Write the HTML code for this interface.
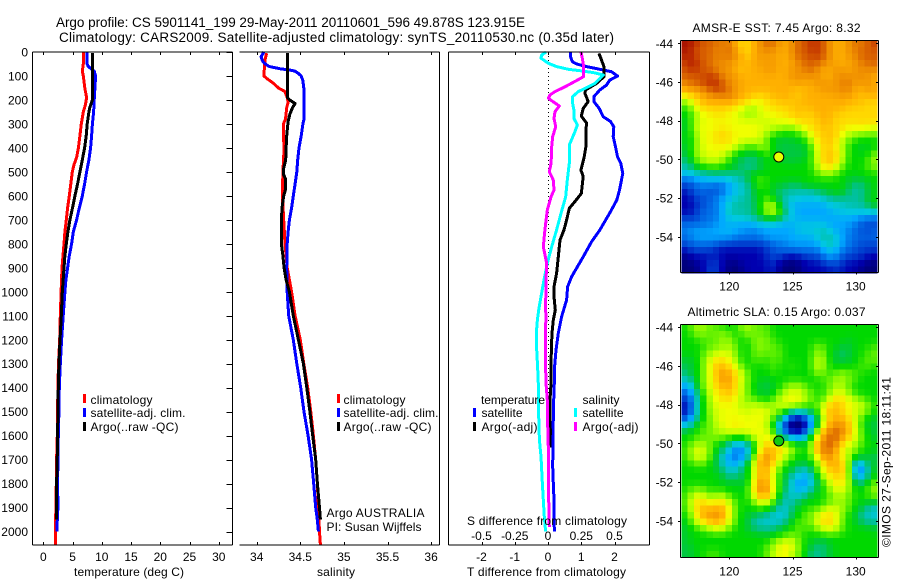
<!DOCTYPE html>
<html lang="en">
<head>
<meta charset="utf-8">
<title>Argo profile</title>
<style>
html,body{margin:0;padding:0;background:#fff;}
svg{display:block;}
text{font-family:"Liberation Sans",sans-serif;font-size:12px;fill:#000;}
.title{font-size:13.5px;}
</style>
</head>
<body>
<svg id="chart" width="900" height="580" viewBox="0 0 900 580" xmlns="http://www.w3.org/2000/svg">
  <rect width="900" height="580" fill="#fff"/>
  <text class="title" x="56" y="27" textLength="469">Argo profile: CS 5901141_199 29-May-2011 20110601_596 49.878S 123.915E</text>
  <text class="title" x="59" y="42" textLength="555">Climatology: CARS2009. Satellite-adjusted climatology: synTS_20110530.nc (0.35d later)</text>

  <g id="panel-t"></g>
  <g id="panel-s"></g>
  <g id="panel-d"></g>
  <g id="map-sst"></g>
  <g id="map-sla"></g>

  <text x="74" y="576" textLength="110">temperature (deg C)</text>
  <text x="317" y="576" textLength="38">salinity</text>
  <text x="467" y="576" textLength="159">T difference from climatology</text>
  <text x="467" y="525" textLength="160">S difference from climatology</text>

  <g>
    <rect x="83" y="394" width="3" height="9" fill="#f00"/>
    <rect x="83" y="408" width="3" height="9" fill="#00f"/>
    <rect x="83" y="422" width="3" height="9" fill="#000"/>
    <text x="90.5" y="404" textLength="62">climatology</text>
    <text x="90.5" y="417" textLength="95">satellite-adj. clim.</text>
    <text x="90.5" y="431" textLength="88">Argo(..raw -QC)</text>
  </g>
  <g>
    <rect x="337" y="394" width="3" height="9" fill="#f00"/>
    <rect x="337" y="408" width="3" height="9" fill="#00f"/>
    <rect x="337" y="422" width="3" height="9" fill="#000"/>
    <text x="343.5" y="404" textLength="62">climatology</text>
    <text x="343.5" y="417" textLength="95">satellite-adj. clim.</text>
    <text x="343.5" y="431" textLength="88">Argo(..raw -QC)</text>
  </g>
  <g>
    <text x="326.5" y="517" textLength="98">Argo AUSTRALIA</text>
    <text x="326.5" y="531" textLength="95">PI: Susan Wijffels</text>
  </g>
  <g>
    <text x="481" y="404" textLength="64">temperature</text>
    <text x="481.5" y="417" textLength="41">satellite</text>
    <text x="481.5" y="431" textLength="56">Argo(-adj)</text>
    <rect x="473" y="408" width="3" height="9" fill="#00f"/>
    <rect x="473" y="422" width="3" height="9" fill="#000"/>
    <text x="582.5" y="404" textLength="37">salinity</text>
    <text x="582.5" y="417" textLength="41">satellite</text>
    <text x="582.5" y="431" textLength="56">Argo(-adj)</text>
    <rect x="574" y="408" width="3" height="9" fill="#0ff"/>
    <rect x="574" y="422" width="3" height="9" fill="#f0f"/>
  </g>

  <text x="692.5" y="32" textLength="168">AMSR-E SST: 7.45 Argo: 8.32</text>
  <text x="687.5" y="316" textLength="178">Altimetric SLA: 0.15 Argo: 0.037</text>
  <text transform="translate(890.5,547) rotate(-90)" textLength="170">©IMOS 27-Sep-2011 18:11:41</text>
</svg>

<script>
// ---- profile data ----
const depthTicks = [0,100,200,300,400,500,600,700,800,900,1000,1100,1200,1300,1400,1500,1600,1700,1800,1900,2000];
const tempTicks = [0,5,10,15,20,25,30];
const salTicks = [34,34.5,35,35.5,36];
const tDiffTicks = [-2,-1,0,1,2];
const sDiffTicks = [-0.5,-0.25,0,0.25,0.5];
const latTicks = [-44,-46,-48,-50,-52,-54];
const lonTicks = [120,125,130];

const climTempDepth = [0,50,80,100,150,190,220,250,300,350,400,440,470,500,550,600,650,700,750,800,850,900,1000,1100,1200,1300,1400,1500,1600,1700,1800,1900,1950,2055];
const climTemp = [6.83,6.83,6.66,6.83,7.1,7.4,7.2,6.83,6.5,6.26,6,5.7,5.24,4.95,4.7,4.44,4.15,3.93,3.7,3.53,3.36,3.19,3.05,2.9,2.8,2.6,2.5,2.45,2.4,2.28,2.22,2.16,2.1,2.1];
const satTempDepth = [0,50,60,80,100,150,200,250,300,350,400,450,500,550,600,650,700,750,800,850,900,950,1000,1100,1200,1300,1400,1500,1600,1700,1800,1900,1950,2000];
const satTemp = [7.5,7.5,7.68,8.7,8.94,8.82,8.7,8.6,8.4,8.25,8.08,7.8,7.4,7.06,6.66,6.15,5.7,5.12,4.84,4.44,4.15,3.87,3.7,3.4,3.13,2.9,2.73,2.67,2.56,2.5,2.45,2.5,2.39,2.33];
const argoTempDepth = [5,100,200,230,250,300,350,400,450,500,550,600,650,700,750,800,850,900,1000,1100,1200,1300,1400,1500,1600,1700,1800,1900,1950];
const argoTemp = [8.37,8.37,8.37,7.97,7.8,7.5,7.34,7.06,6.66,6.26,5.86,5.4,5,4.55,4.2,3.93,3.7,3.53,3.24,3.07,2.85,2.67,2.56,2.5,2.45,2.38,2.28,2.28,2.28];

const climSalDepth = [5,30,60,100,110,130,150,165,190,210,230,280,300,350,400,500,600,700,800,900,1000,1100,1200,1300,1400,1500,1600,1700,1800,1900,2000,2055];
const climSal = [34.115,34.096,34.088,34.084,34.115,34.19,34.25,34.325,34.35,34.36,34.345,34.33,34.306,34.306,34.314,34.3,34.295,34.31,34.325,34.35,34.4,34.44,34.5,34.54,34.585,34.62,34.65,34.677,34.696,34.707,34.72,34.73];
const satSalDepth = [0,10,20,40,50,60,70,75,80,90,100,120,150,200,280,300,350,400,450,500,550,600,650,700,750,800,900,1000,1100,1200,1300,1400,1500,1600,1700,1800,1900,1950,2000];
const satSal = [34.084,34.065,34.05,34.07,34.1,34.14,34.27,34.38,34.44,34.48,34.51,34.53,34.54,34.543,34.543,34.53,34.51,34.485,34.47,34.46,34.44,34.42,34.4,34.375,34.36,34.35,34.344,34.35,34.367,34.42,34.46,34.505,34.543,34.59,34.63,34.654,34.677,34.695,34.707];
const argoSalDepth = [5,190,200,215,230,260,290,350,400,450,490,510,530,570,600,650,700,800,850,900,950,1000,1100,1200,1300,1400,1500,1600,1700,1800,1900,1950];
const argoSal = [34.352,34.352,34.38,34.44,34.413,34.38,34.36,34.344,34.337,34.333,34.306,34.306,34.333,34.333,34.31,34.29,34.283,34.283,34.3,34.314,34.337,34.375,34.42,34.478,34.535,34.574,34.61,34.642,34.677,34.696,34.72,34.73];

const satTDiffDepth = [0,20,40,50,61,82,100,117,138,158,186,207,235,270,290,312,353,395,437,465,506,576,617,666,742,791,854,937,979,1034,1104,1173,1243,1312,1382,1451,1590,1729,1799,1868,2000];
const satTDiff = [0.68,0.68,0.73,0.86,1.16,1.91,2.09,1.86,1.76,1.56,1.38,1.38,1.54,1.66,1.88,1.98,1.96,2.03,2.09,2.19,2.25,2.15,2.07,1.88,1.56,1.31,1.06,0.71,0.59,0.56,0.41,0.31,0.24,0.2,0.19,0.17,0.15,0.14,0.16,0.18,0.19];
const argoTDiffDepth = [6,33,61,103,131,158,172,207,235,267,297,325,395,437,492,520,590,624,652,701,742,784,854,923,979,1020,1076,1118,1173,1243,1382,1451,1590,1650];
const argoTDiff = [1.53,1.61,1.68,1.68,1.46,1.13,1.11,1.21,1.06,1,1.16,1.14,1.14,1.09,0.99,1.06,1,0.81,0.64,0.56,0.48,0.36,0.31,0.26,0.18,0.18,0.22,0.16,0.12,0.1,0.09,0.06,0.07,0.06];
const satSDiffDepth = [0,13,26,47,61,72,78,86,96,110,131,152,165,186,214,242,277,304,339,388,464,534,603,673,742,812,881,951,1020,1076,1117,1173,1243,1312,1382,1521,1618,1687,1771,1868,1937,2000];
const satSDiff = [-0.015,-0.048,-0.053,0.003,0.065,0.153,0.241,0.341,0.416,0.391,0.353,0.278,0.228,0.185,0.185,0.195,0.195,0.221,0.198,0.16,0.16,0.145,0.133,0.098,0.065,0.028,-0.005,-0.03,-0.053,-0.07,-0.08,-0.088,-0.085,-0.078,-0.073,-0.07,-0.065,-0.053,-0.045,-0.035,-0.028,-0.018];
const argoSDiffDepth = [0,26,54,103,117,145,165,179,193,203,225,249,277,311,353,395,464,499,534,576,603,659,742,812,881,951,1076,1104,1173,1256,1382,1451,1521,1590,1729,1868,1980];
const argoSDiff = [0.248,0.258,0.266,0.266,0.221,0.128,0.053,0.015,0.003,0.028,0.085,0.053,0.045,0.058,0.035,0.028,0.023,0.01,0.04,0.045,0.023,-0.005,-0.023,-0.035,-0.01,-0.015,-0.018,-0.015,-0.02,-0.02,-0.015,-0.005,-0.005,0,0.005,0.005,0.01];

// ---- gridded map values: one level character per half-degree cell ----
const sstRows = [
"hhgff fefdc cdeff edeff ggfed defef g",
"hgfff eefec cdeee ddeff ggfed deeff f",
"ghfff efefd cdede ddeff fgfed deeff f",
"fhgff eeedd ddede dddef ffeed ddeef f",
"fggff eeedc dddee ddeee fedde edeee e",
"ffffg geeed ddddd ddeee eedde eeeee d",
"effgg gfeed ddddd ddded deede efdee d",
"deeef ggeed ddddd dddcd ddeee efdde d",
"bccde eefed dcccd dddcd ddddd eddcd d",
"9bcdd ddddc cbbcc cdcdd ddddd ddddc c",
"89bcc cccbb a9bbc cccdc ddddd dcccc c",
"88abb ccbba 9abbb bccdc cdddc ccccc c",
"79abb bbbbb bbaab bbbcc ccddc ccccc c",
"78bbb bcbbb bbbba aa9bb ccdcc cbbcb b",
"88abb cccbb bbba9 88889 bccdc baa99 9",
"87abb cccbb bba87 77788 accdc a9888 8",
"78abb bbbb9 88ab8 77777 8bccb a8877 8",
"78aab bba88 87888 77777 8bcdc b8888 a",
"67aab aa876 66788 87778 8bcdc a8888 a",
"66889 99887 66788 88888 8accb 98889 a",
"55666 66666 78788 88888 89aa9 88888 8",
"33445 55566 78a88 88888 88888 87778 8",
"22333 22445 67988 77668 88888 87667 8",
"12332 33455 67887 66665 56778 86667 8",
"11223 34556 67898 76555 55566 66667 8",
"11223 34566 668ab 75444 44455 56667 8",
"11233 34666 678ab a7544 44445 55555 5",
"22233 34555 66788 75544 44444 44433 3",
"33333 44444 34444 44455 55544 44332 2",
"34444 44544 43444 44455 55654 43322 3",
"33444 44433 33344 44444 45665 43333 3",
"23333 32222 22223 33444 44565 43322 2",
"12222 11111 11122 33333 33454 33222 2",
"01111 21111 11122 21112 22344 22221 1",
"00112 21001 11112 10001 11222 21110 0",
"00012 21000 11112 00001 11112 11100 0"];
const slaRows = [
"89aa9 9888a a9998 88888 88888 88888 8",
"88a99 9a988 a9998 88888 88888 88888 8",
"88899 9aa98 89a99 88888 88888 87888 8",
"88889 99a98 89a99 98888 8a988 77888 9",
"8889a bbba8 89999 98888 8a987 67889 9",
"7789b bcba8 89989 98888 8ba87 77889 9",
"7789b ddcb9 88889 88988 8ba88 88899 8",
"6789b cedcb 98889 88888 8a989 a9988 8",
"6689b ceecb 98878 88888 8899a a9988 8",
"4489b cddca 98777 89aa9 8889a a9888 8",
"3378b bcdcb 98778 9abba 998aa b9888 8",
"2268a bccba 99888 abbba 988bc cba98 8",
"1268a bbbba abaaa bbbba 99bcd cbbba 8",
"1268a abbbb abbba 98655 78cdd cbaa9 8",
"23689 bbbbb bbbb9 75002 46bcd dcb98 7",
"46899 abbcb bbba8 41000 36bde ecb87 7",
"78899 aabbb bbbb9 52001 5bdff fdb98 7",
"88999 a9988 9bbbb 86445 8cdff dcb98 7",
"89aa9 87644 57bcc bba88 9dfff bba98 8",
"8abb9 87533 58cdd cba88 9eefd ba988 8",
"8abb9 75333 58eed ca988 8beec ba987 6",
"88998 76445 7cdec a8877 89cde cb338 7",
"88888 77557 7bddb 98765 69bcd cb336 8",
"88888 87667 7bddb 87654 58bcc cb436 8",
"88888 88787 7cedb 87534 468ac bb678 a",
"89998 88888 8cfec 87544 688ab ba888 a",
"8abb9 ab888 8bddb 76566 7889a a9889 a",
"8bccb bcb98 89bb9 75668 88899 a9887 7",
"8acdd deb98 88987 55788 98abb a9876 5",
"89cde eeb98 77665 55689 9bccb 98765 5",
"79bcd ddb98 76555 56899 9bccb 98866 6",
"7889a bb988 76666 78899 8abcb 98888 7",
"78888 88888 88878 88998 88888 88888 8",
"78888 88888 88889 abb98 87788 88888 8",
"77888 88888 8889a bcba8 76678 88888 8",
"77889 98888 8889a bba98 66778 88888 8"];
const levelColours = ["#00007a","#0000b0","#0040d0","#0070e8","#00a8ff","#00c8e0","#00c0a0","#00c840","#00d800","#60f000","#b0ff00","#f0ff00","#ffd800","#ffb000","#f09000","#d86000","#c03000","#a81000"];
const floatLat = -49.878;
const floatLon = 123.915;

// ---- helpers ----
const NS = "http://www.w3.org/2000/svg";
function make(parent, tag, attrs, text) {
  const el = document.createElementNS(NS, tag);
  for (const k in attrs) el.setAttribute(k, attrs[k]);
  if (text !== undefined) el.textContent = text;
  parent.appendChild(el);
  return el;
}
function rule(parent, x1, y1, x2, y2) {
  const el = make(parent, "line", {x1:x1, y1:y1, x2:x2, y2:y2, stroke:"#000", "stroke-width":1, "shape-rendering":"crispEdges"});
  
  
  return el;
}
function tickLabel(parent, x, y, str, anchor) {
  const el = make(parent, "text", {x:x, y:y, "text-anchor":anchor}, str);
  
  
  return el;
}
const yDepth = d => 52 + d * 0.2398;
const PT = {left:32.5, right:232.5, top:52, bottom:545};
const PS = {left:239.5, right:439.5, top:52, bottom:545};
const PD = {left:448.5, right:649.5, top:52, bottom:545};
const xTemp = v => 43.3 + v * 5.85;
const xSal = v => 256.7 + (v - 34) * 87.2;
const xT = v => 548 + v * 33.25;
const xS = v => 548 + v * 133;

function curve(parent, xf, depths, vals, colour, name) {
  const pts = depths.map((d, i) => xf(vals[i]).toFixed(1) + "," + yDepth(d).toFixed(1)).join(" ");
  const el = make(parent, "polyline", {points:pts, fill:"none", stroke:colour, "stroke-width":3, "stroke-linejoin":"round", "shape-rendering":"crispEdges"});
  
  
}

// ---- panel 1: temperature ----
const gT = document.getElementById("panel-t");
curve(gT, xTemp, climTempDepth, climTemp, "#f00", "climatology-temperature-line");
curve(gT, xTemp, satTempDepth, satTemp, "#00f", "satellite-temperature-line");
curve(gT, xTemp, argoTempDepth, argoTemp, "#000", "argo-temperature-line");
rule(gT, PT.left, PT.top, PT.right, PT.top);
rule(gT, PT.left, PT.bottom, PT.right, PT.bottom);
rule(gT, PT.left, PT.top, PT.left, PT.bottom);
rule(gT, PT.right, PT.top, PT.right, PT.bottom);
depthTicks.forEach(d => {
  rule(gT, PT.right - 6, Math.round(yDepth(d)) + .5, PT.right, Math.round(yDepth(d)) + .5);
  tickLabel(gT, 28, yDepth(d) + 4.5, String(d), "end");
});
tempTicks.forEach(v => {
  const x = Math.round(xTemp(v)) + .5;
  rule(gT, x, PT.top, x, PT.top + 3);
  rule(gT, x, PT.bottom - 3, x, PT.bottom);
  tickLabel(gT, xTemp(v), 561, String(v), "middle");
});

// ---- panel 2: salinity ----
const gS = document.getElementById("panel-s");
curve(gS, xSal, climSalDepth, climSal, "#f00", "climatology-salinity-line");
curve(gS, xSal, satSalDepth, satSal, "#00f", "satellite-salinity-line");
curve(gS, xSal, argoSalDepth, argoSal, "#000", "argo-salinity-line");
rule(gS, PS.left, PS.top, PS.right, PS.top);
rule(gS, PS.left, PS.bottom, PS.right, PS.bottom);
rule(gS, PS.right, PS.top, PS.right, PS.bottom);
salTicks.forEach(v => {
  const x = Math.round(xSal(v)) + .5;
  rule(gS, x, PS.top, x, PS.top + 3);
  rule(gS, x, PS.bottom - 3, x, PS.bottom);
  tickLabel(gS, xSal(v), 561, String(v), "middle");
});

// ---- panel 3: differences ----
const gD = document.getElementById("panel-d");
const zero = make(gD, "line", {x1:548.5, y1:PD.top, x2:548.5, y2:PD.bottom - 60, stroke:"#000", "stroke-width":1, "stroke-dasharray":"1 3", "shape-rendering":"crispEdges"});


curve(gD, xT, satTDiffDepth, satTDiff, "#00f", "satellite-temperature-difference-line");
curve(gD, xT, argoTDiffDepth, argoTDiff, "#000", "argo-temperature-difference-line");
curve(gD, xS, satSDiffDepth, satSDiff, "#0ff", "satellite-salinity-difference-line");
curve(gD, xS, argoSDiffDepth, argoSDiff, "#f0f", "argo-salinity-difference-line");
rule(gD, PD.left, PD.top, PD.right, PD.top);
rule(gD, PD.left, PD.bottom, PD.right, PD.bottom);
rule(gD, PD.left, PD.top, PD.left, PD.bottom);
rule(gD, PD.right, PD.top, PD.right, PD.bottom);
tDiffTicks.forEach(v => {
  const x = Math.round(xT(v)) + .5;
  rule(gD, x, PD.top, x, PD.top + 3);
  rule(gD, x, PD.bottom - 3, x, PD.bottom);
  tickLabel(gD, xT(v), 561, String(v), "middle");
});
sDiffTicks.forEach(v => {
  tickLabel(gD, xS(v) , 540, String(v), "middle");
});

// ---- maps ----
function parseLevels(rows) {
  return rows.map(row => row.replace(/ /g, "").split("").map(ch => parseInt(ch, 36)));
}
// light display smoothing across neighbouring cells, like the shaded source map
function shade(grid, r, c) {
  let sum = 0, weight = 0;
  for (let dr = -1; dr <= 1; dr++) {
    for (let dc = -1; dc <= 1; dc++) {
      const row = grid[r + dr];
      if (!row || row[c + dc] === undefined) continue;
      const w = (dr === 0 ? 2 : 1) * (dc === 0 ? 2 : 1);
      sum += row[c + dc] * w;
      weight += w;
    }
  }
  return sum / weight;
}
function hexToRgb(h) {
  return [parseInt(h.slice(1, 3), 16), parseInt(h.slice(3, 5), 16), parseInt(h.slice(5, 7), 16)];
}
function levelColour(v) {
  const lo = Math.max(0, Math.min(levelColours.length - 1, Math.floor(v)));
  const hi = Math.min(levelColours.length - 1, lo + 1);
  const t = v - lo;
  const a = hexToRgb(levelColours[lo]);
  const b = hexToRgb(levelColours[hi]);
  const mix = a.map((p, i) => Math.round(p + (b[i] - p) * t));
  return "rgb(" + mix.join(",") + ")";
}
function drawMap(groupId, rows, box, latToY, marker, markerName) {
  const g = document.getElementById(groupId);
  const lonToX = lon => 729.3 + (lon - 120) * 12.64;
  const grid = parseLevels(rows);
  grid.forEach((cells, r) => {
    const top = box.lat0 - r / 3;
    for (let c = 0; c < cells.length; c++) {
      const lon = 116.2 + c * 0.5;
      const x0 = lonToX(lon);
      const x1 = lonToX(lon + 0.5);
      const y0 = latToY(top);
      const y1 = latToY(top - 1 / 3);
      const cell = make(g, "rect", {x:x0.toFixed(2), y:y0.toFixed(2), width:(x1 - x0 + .4).toFixed(2), height:(y1 - y0 + .4).toFixed(2), fill:levelColour(shade(grid, r, c)), "shape-rendering":"crispEdges"});
      
      
    }
  });
  rule(g, 680.5, box.top, 878.5, box.top);
  rule(g, 680.5, box.bottom, 878.5, box.bottom);
  rule(g, 680.5, box.top, 680.5, box.bottom);
  rule(g, 878.5, box.top, 878.5, box.bottom);
  latTicks.forEach(lat => {
    const y = Math.round(latToY(lat)) + .5;
    rule(g, 678, y, 681, y);
    rule(g, 876, y, 878.5, y);
    tickLabel(g, 673, latToY(lat) + 4.5, String(lat), "end");
  });
  lonTicks.forEach(lon => {
    const x = Math.round(lonToX(lon)) + .5;
    rule(g, x, box.top, x, box.top + 2);
    rule(g, x, box.bottom, x, box.bottom + 2);
    tickLabel(g, lonToX(lon), box.bottom + 18, String(lon), "middle");
  });
  const dot = make(g, "circle", {cx:lonToX(floatLon).toFixed(1), cy:latToY(floatLat).toFixed(1), r:5, fill:marker, stroke:"#000", "stroke-width":1});
  
  
}
drawMap("map-sst", sstRows, {lat0:-43.87, top:40.5, bottom:272.5}, lat => 43.3 + (-44 - lat) * 19.35, "#e8ff00", "sst-float-marker");
drawMap("map-sla", slaRows, {lat0:-43.87, top:324.5, bottom:557.5}, lat => 327 + (-44 - lat) * 19.4, "#10c810", "sla-float-marker");
</script>
</body>
</html>
